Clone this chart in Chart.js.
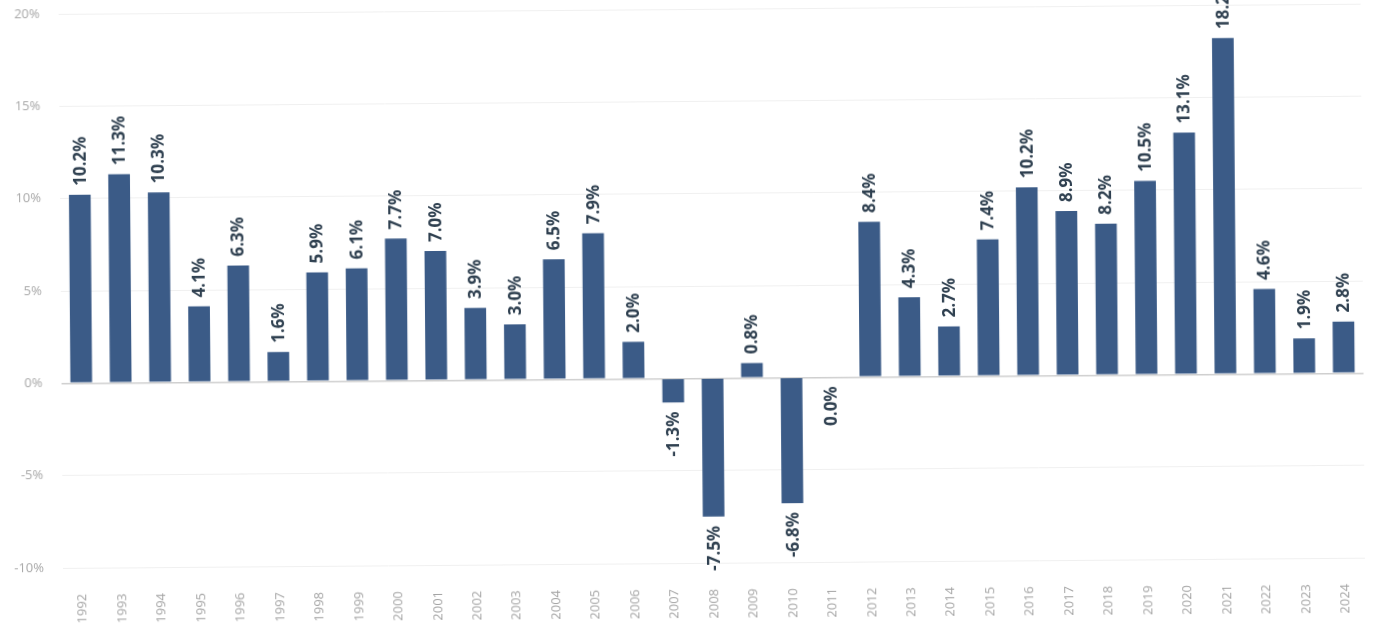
<!DOCTYPE html>
<html>
<head>
<meta charset="utf-8">
<title>Annual change 1992-2024</title>
<script src="https://cdn.jsdelivr.net/npm/chart.js@4/dist/chart.umd.min.js"></script>
<style>
    html, body { margin: 0; padding: 0; background: #fff; overflow: hidden; }
    #wrap { width: 1377px; height: 624px; }
    /* the printed page sat slightly tilted */
    #chart { display: block; transform: rotate(-0.45deg); transform-origin: 50% 50%; }
</style>
</head>
<body>
<div id="wrap"><canvas id="chart" width="1377" height="624"></canvas></div>
<script>
const years = ['1992', '1993', '1994', '1995', '1996', '1997', '1998', '1999', '2000', '2001', '2002',
    '2003', '2004', '2005', '2006', '2007', '2008', '2009', '2010', '2011', '2012', '2013',
    '2014', '2015', '2016', '2017', '2018', '2019', '2020', '2021', '2022', '2023', '2024'];
const changePct = [10.2, 11.3, 10.3, 4.1, 6.3, 1.6, 5.9, 6.1, 7.7, 7.0, 3.9,
    3.0, 6.5, 7.9, 2.0, -1.3, -7.5, 0.8, -6.8, 0.0, 8.4, 4.3,
    2.7, 7.4, 10.2, 8.9, 8.2, 10.5, 13.1, 18.2, 4.6, 1.9, 2.8];
const yTicks = [-10, -5, 0, 5, 10, 15, 20];

const barColor = '#3b5b87';
const labelColor = '#2f4050';

// value labels, written vertically above (or below) each bar
const barLabels = {
    id: 'barLabels',
    afterDatasetsDraw(chart) {
        const ctx = chart.ctx;
        const meta = chart.getDatasetMeta(0);
        ctx.save();
        ctx.font = 'bold 17px "Open Sans", "DejaVu Sans", sans-serif';
        ctx.fillStyle = labelColor;
        ctx.textBaseline = 'middle';
        meta.data.forEach((bar, i) => {
            const v = changePct[i];
            const txt = v.toFixed(1) + '%';
            ctx.save();
            if (v > 0) {
                ctx.translate(bar.x, bar.y - 9);
                ctx.rotate(-Math.PI / 2);
                ctx.textAlign = 'left';
            } else {
                ctx.translate(bar.x, bar.y + 9);
                ctx.rotate(-Math.PI / 2);
                ctx.textAlign = 'right';
            }
            ctx.fillText(txt, 0, 1);
            ctx.restore();
        });
        ctx.restore();
    }
};

new Chart(document.getElementById('chart'), {
    type: 'bar',
    data: {
        labels: years,
        datasets: [{
            data: changePct,
            backgroundColor: barColor,
            borderWidth: 0,
            barPercentage: 0.55,
            categoryPercentage: 1.0
        }]
    },
    options: {
        responsive: false,
        animation: false,
        layout: { padding: { top: 9, right: 5, left: 0, bottom: 0 } },
        plugins: {
            legend: { display: false },
            tooltip: { enabled: false }
        },
        scales: {
            x: {
                grid: { display: false },
                border: { display: false },
                ticks: {
                    autoSkip: false,
                    minRotation: 90,
                    maxRotation: 90,
                    padding: 18,
                    color: '#a3a3a3',
                    font: { family: '"Open Sans", sans-serif', size: 13 }
                },
                afterFit(scale) { scale.height = 61; }
            },
            y: {
                min: -10,
                max: 20,
                afterBuildTicks(scale) { scale.ticks = yTicks.map(v => ({ value: v })); },
                grid: {
                    drawTicks: false,
                    color: ctx => ctx.tick && ctx.tick.value === 0 ? '#cfcfcf' : '#f0f0f0',
                    lineWidth: ctx => ctx.tick && ctx.tick.value === 0 ? 1.5 : 1
                },
                border: { display: false },
                ticks: {
                    padding: 19,
                    color: '#a8a8a8',
                    font: { family: '"Open Sans", sans-serif', size: 13 },
                    callback: v => v + '%'
                },
                afterFit(scale) {
                    scale.width = 61;
                    // tick labels may overhang the plot; keep the plot edge where padding puts it
                    scale.paddingTop = 0;
                    scale.paddingBottom = 0;
                }
            }
        }
    },
    plugins: [barLabels]
});
</script>
</body>
</html>
